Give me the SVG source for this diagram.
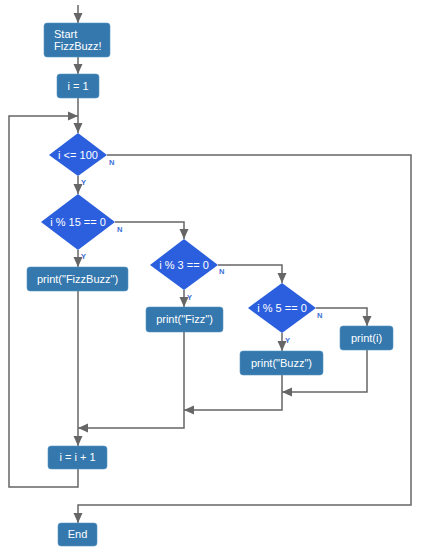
<svg xmlns="http://www.w3.org/2000/svg" width="426" height="554" viewBox="0 0 426 554">
<defs>
<marker id="ah" markerUnits="userSpaceOnUse" markerWidth="10" markerHeight="10" viewBox="0 0 10 10" refX="10" refY="5" orient="auto">
<path d="M0,0.5 L10,5 L0,9.5 Z" fill="#666"/>
</marker>
<style>
.box{fill:#3478ad;stroke:#5b95c2;stroke-width:0.6}
.dia{fill:#2c5fde}
.t{font-family:"Liberation Sans",Arial,sans-serif;font-size:11px;fill:#fff}
.c{text-anchor:middle}
.yn{font-family:"Liberation Sans",Arial,sans-serif;font-size:7.5px;font-weight:bold;fill:#3c6fd6}
.ln{fill:none;stroke:#666;stroke-width:1.5}
</style>
</defs>
<g id="connectors">
<path class="ln" d="M78,5 V23" marker-end="url(#ah)"/>
<path class="ln" d="M78,57 V74" marker-end="url(#ah)"/>
<path class="ln" d="M78,98 V133" marker-end="url(#ah)"/>
<path class="ln" d="M78,469 V487 H9 V116 H78" marker-end="url(#ah)"/>
<path class="ln" d="M107,155 H411 V505 H78 V523" marker-end="url(#ah)"/>
<path class="ln" d="M78,176 V194" marker-end="url(#ah)"/>
<path class="ln" d="M78,250 V267" marker-end="url(#ah)"/>
<path class="ln" d="M115,222 H184 V239" marker-end="url(#ah)"/>
<path class="ln" d="M184,290 V307" marker-end="url(#ah)"/>
<path class="ln" d="M218,265 H282 V283" marker-end="url(#ah)"/>
<path class="ln" d="M282,333 V351" marker-end="url(#ah)"/>
<path class="ln" d="M316,308 H367 V326" marker-end="url(#ah)"/>
<path class="ln" d="M367,350 V392 H282" marker-end="url(#ah)"/>
<path class="ln" d="M282,375 V410 H184" marker-end="url(#ah)"/>
<path class="ln" d="M184,332 V428 H78" marker-end="url(#ah)"/>
<path class="ln" d="M78,291 V446" marker-end="url(#ah)"/>
<text class="yn" x="109" y="165">N</text>
<text class="yn" x="81" y="185">Y</text>
<text class="yn" x="117" y="232">N</text>
<text class="yn" x="81" y="259">Y</text>
<text class="yn" x="219" y="274">N</text>
<text class="yn" x="187" y="300">Y</text>
<text class="yn" x="317" y="318">N</text>
<text class="yn" x="285" y="343">Y</text>
</g>
<g id="start"><rect class="box" x="44" y="23" width="66" height="34" rx="3"/><text class="t" x="54" y="38">Start</text><text class="t" x="54" y="50">FizzBuzz!</text></g>
<g id="init"><rect class="box" x="57" y="74" width="42" height="24" rx="3"/><text class="t c" x="78" y="90">i = 1</text></g>
<g id="cond100"><polygon class="dia" points="78,133 107,155 78,176 49,155"/><text class="t c" x="78" y="159">i &lt;= 100</text></g>
<g id="cond15"><polygon class="dia" points="78,194 115,222 78,250 41,222"/><text class="t c" x="78" y="226">i % 15 == 0</text></g>
<g id="printFizzBuzz"><rect class="box" x="27" y="267" width="101" height="24" rx="3"/><text class="t c" x="77.5" y="283">print("FizzBuzz")</text></g>
<g id="cond3"><polygon class="dia" points="184,239 218,265 184,290 150,265"/><text class="t c" x="184" y="269">i % 3 == 0</text></g>
<g id="printFizz"><rect class="box" x="146" y="307" width="77" height="25" rx="3"/><text class="t c" x="184.5" y="323">print("Fizz")</text></g>
<g id="cond5"><polygon class="dia" points="282,283 316,308 282,333 248,308"/><text class="t c" x="282" y="312">i % 5 == 0</text></g>
<g id="printBuzz"><rect class="box" x="240" y="351" width="83" height="24" rx="3"/><text class="t c" x="281.5" y="367">print("Buzz")</text></g>
<g id="printI"><rect class="box" x="340" y="326" width="53" height="24" rx="3"/><text class="t c" x="366.5" y="342">print(i)</text></g>
<g id="incr"><rect class="box" x="48" y="446" width="59" height="23" rx="3"/><text class="t c" x="77.5" y="461">i = i + 1</text></g>
<g id="end"><rect class="box" x="58" y="523" width="39" height="23" rx="3"/><text class="t c" x="77.5" y="538">End</text></g>
</svg>
